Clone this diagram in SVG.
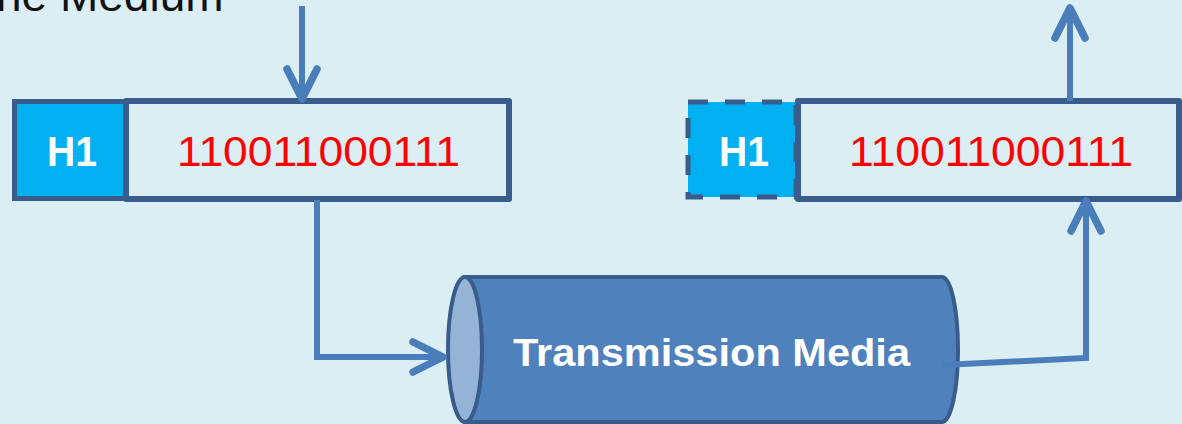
<svg xmlns="http://www.w3.org/2000/svg" width="1182" height="424" viewBox="0 0 1182 424">
  <defs>
    <style>
      .bg { fill: #DBEEF4; }
      .hdr { fill: #00B0F0; stroke: #385D8A; stroke-width: 5; }
      .hdr-dash { fill: #00B0F0; stroke: #385D8A; stroke-width: 5; stroke-dasharray: 20 17; }
      .data { fill: none; stroke: #385D8A; stroke-width: 6; stroke-linejoin: round; }
      .hdr-label { font-family: "Liberation Sans", Arial, sans-serif; font-weight: bold; font-size: 42px; fill: #FFFFFF; text-anchor: middle; }
      .bits { font-family: "Liberation Sans", Arial, sans-serif; font-size: 43px; fill: #FF0000; text-anchor: middle; }
      .title { font-family: "Liberation Sans", Arial, sans-serif; font-size: 46px; fill: #111111; }
      .link { fill: none; stroke: #4A7EBB; stroke-width: 6; }
      .tube { fill: #4F81BD; stroke: #385D8A; stroke-width: 4; }
      .tube-end { fill: #95B3D7; stroke: #385D8A; stroke-width: 4; }
      .tube-label { font-family: "Liberation Sans", Arial, sans-serif; font-weight: bold; font-size: 39px; fill: #FFFFFF; text-anchor: middle; }
    </style>
    <marker id="chevron" markerUnits="userSpaceOnUse" markerWidth="44" markerHeight="44" viewBox="-36 -22 44 44" refX="0" refY="0" orient="auto" overflow="visible">
      <path d="M-30,-15 L0,0 L-30,15" fill="none" stroke="#4A7EBB" stroke-width="7.5" stroke-linecap="round" stroke-linejoin="round"/>
    </marker>
  </defs>

  <rect class="bg" x="0" y="0" width="1182" height="424"/>

  <!-- heading, partly above the top edge -->
  <text class="title" x="-4" y="11">ne Medium</text>

  <!-- sender frame -->
  <g id="sender-header">
    <rect class="hdr" x="14.5" y="101.5" width="111" height="97"/>
    <text class="hdr-label" x="72" y="166" textLength="50" lengthAdjust="spacingAndGlyphs">H1</text>
  </g>
  <g id="sender-data">
    <rect class="data" x="126" y="101" width="383" height="98"/>
    <text class="bits" x="318.5" y="166" textLength="283" lengthAdjust="spacingAndGlyphs">110011000111</text>
  </g>

  <!-- receiver frame -->
  <g id="receiver-header">
    <rect class="hdr-dash" x="688" y="102" width="108" height="95"/>
    <text class="hdr-label" x="744" y="166" textLength="50" lengthAdjust="spacingAndGlyphs">H1</text>
  </g>
  <g id="receiver-data">
    <rect class="data" x="798" y="101" width="381" height="98"/>
    <text class="bits" x="991" y="166" textLength="284" lengthAdjust="spacingAndGlyphs">110011000111</text>
  </g>

  <!-- medium -->
  <g id="medium">
    <path class="tube" d="M465,277 L942,277 A16,72.5 0 0 1 942,422 L465,422 Z"/>
    <ellipse class="tube-end" cx="465" cy="349.5" rx="17" ry="72.5"/>
    <text class="tube-label" x="711.5" y="366" textLength="397" lengthAdjust="spacingAndGlyphs">Transmission Media</text>
  </g>

  <!-- connectors -->
  <g id="connectors">
    <path class="link" d="M302,6 L302,99" marker-end="url(#chevron)"/>
    <path class="link" d="M317,200 L317,357 L443,357" marker-end="url(#chevron)"/>
    <path class="link" d="M943,365 L1086,358 L1086,201" marker-end="url(#chevron)"/>
    <path class="link" d="M1070,101 L1070,8" marker-end="url(#chevron)"/>
  </g>
</svg>
